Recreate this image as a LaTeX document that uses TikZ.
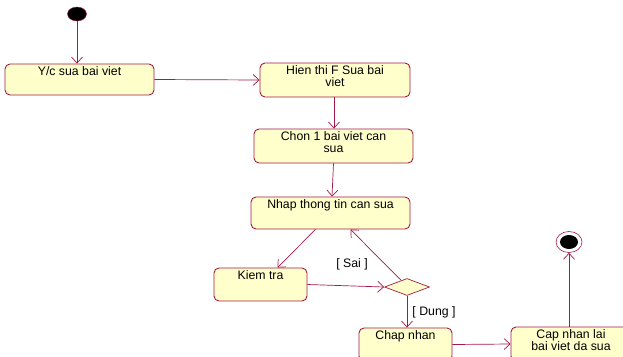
\documentclass[tikz,border=0pt]{standalone}
\usepackage{fontspec}
\setmainfont{Liberation Sans}
\usetikzlibrary{arrows.meta,shapes.geometric}

\definecolor{edge}{RGB}{165,25,70}
\definecolor{boxfill}{RGB}{255,255,204}

\tikzset{
  act/.style={draw=edge, fill=boxfill, rounded corners=5pt, line width=0.9pt, inner sep=0pt},
  txt/.style={anchor=north, align=center, inner sep=2.5pt, font=\fontsize{12.3}{12.5}\selectfont},
  guard/.style={inner sep=0pt, font=\fontsize{12.3}{12.5}\selectfont},
  flow/.style={draw=edge, line width=0.7pt, -{Straight Barb[length=6pt,width=11pt]}},
}

\begin{document}
\begin{tikzpicture}[x=1pt, y=-1pt]
\clip (0,0) rectangle (623,356);

% Start and end
\node[ellipse, fill=black, draw=edge, line width=0.4pt, minimum width=19, minimum height=14, inner sep=0pt] (init) at (77,14) {};
\node[ellipse, draw=edge, fill=white, line width=0.6pt, minimum width=26, minimum height=21, inner sep=0pt,
  path picture={\fill[black] (path picture bounding box.center) ellipse (9 and 7);}] (fin) at (569,242) {};

% Activities
\node[act, minimum width=149, minimum height=31, label={[txt]north:Y/c sua bai viet}] (yc) at (79.5,79.5) {};
\node[act, minimum width=150, minimum height=34, label={[txt]north:Hien thi F Sua bai\\viet}] (hien) at (335,80) {};
\node[act, minimum width=159, minimum height=34, label={[txt]north:Chon 1 bai viet can\\sua}] (chon) at (333.5,146) {};
\node[act, minimum width=159, minimum height=32, label={[txt]north:Nhap thong tin can sua}] (nhap) at (330.5,213) {};
\node[act, minimum width=93, minimum height=33, label={[txt]north:Kiem tra}] (kiem) at (260.5,284.5) {};
\node[act, minimum width=93, minimum height=33, label={[txt]north:Chap nhan}] (chap) at (405.5,344.5) {};
\node[act, minimum width=120, minimum height=34, label={[txt]north:Cap nhan lai\\bai viet da sua}] (cap) at (571,344) {};

% Decision
\node[diamond, draw=edge, fill=boxfill, line width=0.7pt, minimum width=45, minimum height=17, inner sep=0pt] (dia) at (407,287) {};

% Guards
\node[guard] (sai) at (352,264) {[ Sai ]};
\node[guard] (dung) at (434,312) {[ Dung ]};

% Transitions
\draw[flow] (init) -- (init |- yc.north);
\draw[flow] (yc.east) -- (hien.west);
\draw[flow] ([xshift=-1]hien.south) -- ([xshift=-1]hien.south |- chon.north);
\draw[flow] (chon.south) -- ([xshift=1.5]nhap.north);
\draw[flow] ([xshift=-15]nhap.south) -- ([xshift=17]kiem.north);
\draw[flow] (kiem.east) -- (dia.west);
\draw[flow] ([xshift=-6,yshift=-2]dia.north) -- ([xshift=20]nhap.south);
\draw[flow] (dia.south) -- (dia.south |- chap.north);
\draw[flow] (chap.east) -- (cap.west);
\draw[flow] (cap.north -| fin) -- (fin.south);

\end{tikzpicture}
\end{document}
